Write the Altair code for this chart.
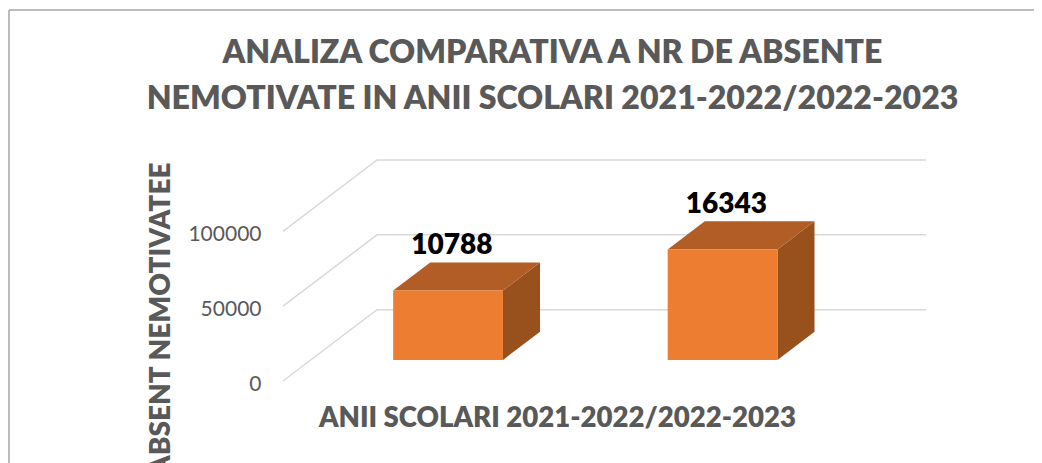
import altair as alt
import pandas as pd

categories = ["2021-2022", "2022-2023"]
labels = [10788, 16343]
heights = [46300, 73800]
ticks = [0, 50000, 100000]

TITLE = ["ANALIZA COMPARATIVA A NR DE ABSENTE", "NEMOTIVATE IN ANII SCOLARI 2021-2022/2022-2023"]
GREY = "#595959"
FONT = "Lato"

# oblique projection: depth 0..1 shifts right and up in data units
DX = 0.3425
DY = 47650
Z0, Z1 = 0.296, 0.69
B0, B1 = 0.3, 0.7


def px(c, z):
    return c + z * DX


def py(v, z):
    return v + z * DY


grid_rows = []
for t in ticks:
    for order, (c, z) in enumerate([(0, 0), (0, 1), (2, 1)]):
        grid_rows.append({"t": t, "o": order, "sx": px(c, z), "sy": py(t, z)})
grid = pd.DataFrame(grid_rows)

front, top, side, text = [], [], [], []
for i, (cat, h, lab) in enumerate(zip(categories, heights, labels)):
    front.append({"cat": cat, "sx": px(i + B0, Z0), "sx2": px(i + B1, Z0), "sy": py(0, Z0), "sy2": py(h, Z0)})
    for z in (Z0, Z1):
        top.append({"cat": cat, "sx": px(i + B0, z), "sx2": px(i + B1, z), "sy": py(h, z)})
        side.append({"cat": cat, "sx": px(i + B1, z), "sy": py(0, z), "sy2": py(h, z)})
    text.append({"cat": cat, "sx": px(i + 0.5, Z0 + 0.04), "sy": py(h, Z1), "label": str(lab)})

xs = alt.Scale(domain=[0, 2 + DX], nice=False, zero=False)
ys = alt.Scale(domain=[0, 100000 + DY], nice=False, zero=False)
x_axis = alt.Axis(
    title="ANII SCOLARI 2021-2022/2022-2023", domain=False, ticks=False, labels=False, grid=False,
    titleX=274, titleY=37, titleBaseline="middle", titleFont=FONT, titleFontSize=27.6,
    titleFontWeight=800, titleColor=GREY)
y_axis = alt.Axis(
    title="ABSENT NEMOTIVATEE", values=ticks, format="d", domain=False, ticks=False, grid=False,
    labelFont=FONT, labelFontSize=21, labelColor=GREY, labelPadding=22, labelOffset=3,
    titleX=-122, titleY=2, titleAngle=270, titleAlign="right", titleBaseline="middle",
    titleFont=FONT, titleFontSize=28, titleFontWeight=800, titleColor=GREY)
xq = alt.X("sx:Q", scale=xs, axis=x_axis)
yq = alt.Y("sy:Q", scale=ys, axis=y_axis)

grid_layer = alt.Chart(grid).mark_line(color="#d9d9d9", strokeWidth=1.5).encode(
    x=xq, y=yq, detail="t:N", order="o:Q")

fx2 = alt.X2("sx2:Q")
fy2 = alt.Y2("sy2:Q")

front_layer = alt.Chart(pd.DataFrame(front)).mark_rect(color="#ED7D31").encode(x=xq, x2=fx2, y=yq, y2=fy2)
top_layer = alt.Chart(pd.DataFrame(top)).mark_area(color="#B25D26", orient="horizontal").encode(
    x=xq, x2=fx2, y=yq, detail="cat:N")
side_layer = alt.Chart(pd.DataFrame(side)).mark_area(color="#98501D", orient="vertical").encode(
    x=xq, y=yq, y2=fy2, detail="cat:N")
text_layer = alt.Chart(pd.DataFrame(text)).mark_text(
    font=FONT, fontSize=28, fontWeight=800, color="#000000", baseline="bottom", dy=-2
).encode(x=xq, y=yq, text="label:N")

frame_top = alt.Chart(pd.DataFrame({"a": [0]})).mark_rule(color="#a6a6a6", strokeWidth=1.5).encode(
    x=alt.value(-274), x2=alt.value(760), y=alt.value(-150))
frame_left = alt.Chart(pd.DataFrame({"a": [0]})).mark_rule(color="#a6a6a6", strokeWidth=1.5).encode(
    x=alt.value(-274), y=alt.value(-150), y2=alt.value(310))

chart = alt.layer(
    frame_top, frame_left, grid_layer, side_layer, top_layer, front_layer, text_layer
).properties(
    width=643,
    height=221,
    padding={"left": 275, "top": 152, "right": 108, "bottom": 82},
    autosize=alt.AutoSizeParams(type="none"),
    background="white",
    title=alt.TitleParams(
        text=TITLE, anchor="middle", frame="group", dx=-52, offset=-107, font=FONT, fontSize=32.1,
        fontWeight=800, color=GREY, lineHeight=46),
).configure_view(stroke=None)

chart.save("out.html", embed_options={"renderer": "svg", "actions": False})
